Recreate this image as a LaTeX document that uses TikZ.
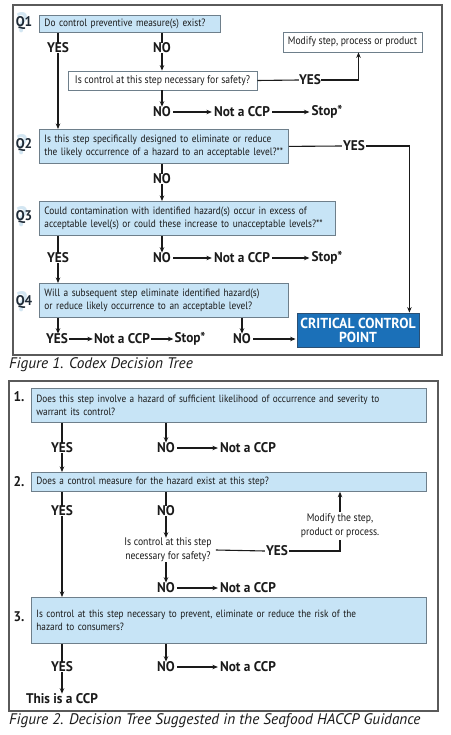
\documentclass[tikz,border=0pt]{standalone}
\usepackage{fontspec}
\setmainfont{PT Sans}[FakeStretch=0.88]
\newfontfamily\capfont{PT Sans}
\newfontfamily\lblfont{PT Sans}[FakeStretch=0.95]
\usetikzlibrary{arrows.meta,calc}
\definecolor{boxfill}{HTML}{C7E4F6}
\definecolor{boxline}{HTML}{6E7F8B}
\definecolor{ccpblue}{HTML}{1B70B8}
\definecolor{ccpdark}{HTML}{2A4F73}
\definecolor{ink}{HTML}{1A1A1A}
\definecolor{framec}{HTML}{5A5A5A}
\definecolor{qmark}{HTML}{D3E6F2}
\definecolor{qlabc}{HTML}{1E2A36}
\begin{document}
\begin{tikzpicture}[x=1pt,y=-1pt,
  every node/.style={text=ink, inner sep=0pt},
  qbox/.style={draw=boxline, fill=boxfill, line width=0.8pt, anchor=north west, align=left, inner xsep=5pt, inner ysep=0pt, font=\fontsize{10.6}{13}\selectfont},
  qboxb/.style={qbox, font=\fontsize{10.5}{13}\selectfont},
  wbox/.style={draw=boxline, fill=white, line width=0.8pt, font=\fontsize{11}{13}\selectfont},
  lbl/.style={font=\lblfont\fontsize{14}{16}\selectfont\bfseries},
  txt/.style={font=\fontsize{11}{14}\selectfont, align=center},
  qlab/.style={font=\lblfont\fontsize{14}{16}\selectfont\bfseries, text=qlabc},
  qm/.style={font=\fontsize{28}{28}\selectfont\bfseries, text=qmark},
  conn/.style={draw=ink, line width=1.1pt},
  arr/.style={conn, -{Stealth[length=5.5pt,width=4.5pt]}},
  figframe/.style={draw=framec, line width=1.3pt},
  capt/.style={font=\capfont\itshape\fontsize{15.3}{17}\selectfont, anchor=west, text=ink}
]
\useasboundingbox[fill=white] (0,0) rectangle (450,735);
% ---------------- Figure 1 ----------------
\draw[figframe] (13,5) rectangle (442,355);
\node[qm] (qm1) at (22,23) {?};
\node[qm] (qm2) at (22,145) {?};
\node[qm] (qm3) at (22,217) {?};
\node[qm] (qm4) at (22,302) {?};
\node[qlab] (ql1) at (24,23) {Q1};
\node[qlab] (ql2) at (24,145) {Q2};
\node[qlab] (ql3) at (24,217) {Q3};
\node[qlab] (ql4) at (24,302) {Q4};

\node[qbox, text width=171, minimum height=17] (q1) at (39,15) {\mbox{Do control preventive measure(s) exist?}};
\node[lbl] (y1) at (58,48) {YES};
\node[lbl] (n1) at (162,48) {NO};
\node[wbox, minimum width=189, minimum height=19] (s1) at (162.5,80.5) {Is control at this step necessary for safety?};
\node[wbox, minimum width=139, minimum height=20] (m1) at (352.5,42) {Modify step, process or product};
\node[lbl] (y1b) at (310,80) {YES};
\node[lbl] (n1b) at (162,112) {NO};
\node[lbl] (nc1) at (242,112) {Not a CCP};
\node[lbl] (st1) at (327,112) {Stop*};

\node[qbox, text width=239, minimum height=34] (q2) at (39,129) {\mbox{Is this step specifically designed to eliminate or reduce}\\\mbox{the likely occurrence of a hazard to an acceptable level?**}};
\node[lbl] (y2) at (354,146) {YES};
\node[lbl] (n2) at (162,179) {NO};

\node[qbox, text width=286, minimum height=34] (q3) at (39,201) {\mbox{Could contamination with identified hazard(s) occur in excess of}\\\mbox{acceptable level(s) or could these increase to unacceptable levels?**}};
\node[lbl] (y3) at (58,258) {YES};
\node[lbl] (n3) at (162,258) {NO};
\node[lbl] (nc3) at (242,258) {Not a CCP};
\node[lbl] (st3) at (327,258) {Stop*};

\node[qbox, text width=239, minimum height=34] (q4) at (39,283) {\mbox{Will a subsequent step eliminate identified hazard(s)}\\\mbox{or reduce likely occurrence to an acceptable level?}};
\node[lbl] (y4) at (57,339) {YES};
\node[lbl] (nc4) at (122,339) {Not a CCP};
\node[lbl] (st4) at (190,339) {Stop*};
\node[lbl] (n4) at (242,339) {NO};
\node[draw=ccpdark, fill=ccpblue, line width=0.8pt, minimum width=122, minimum height=34, text=white, align=center, font=\lblfont\fontsize{14.5}{14}\selectfont\bfseries] (ccp) at (358,330) {CRITICAL CONTROL\\POINT};
\coordinate (ccpin) at ($(ccp.north east)+(-10,0)$);
\coordinate (m1in) at ($(m1.south)+(6,0)$);

\draw[conn] (q1.south -| y1) -- (y1.north);
\draw[arr] (y1.south) -- (q2.north -| y1);
\draw[conn] (q1.south -| n1) -- (n1.north);
\draw[arr] (n1.south) -- (s1.north -| n1);
\draw[conn] (s1.east) -- (y1b.west);
\draw[arr] (y1b.east) -| (m1in);
\draw[arr] (s1.south -| n1b) -- (n1b.north);
\draw[arr] (n1b.east) ++(2,0) -- ([xshift=-2pt]nc1.west);
\draw[arr] (nc1.east) ++(2,0) -- ([xshift=-2pt]st1.west);
\draw[conn] (q2.east) -- ([xshift=-1pt]y2.west);
\draw[arr] ([xshift=1pt]y2.east) -| (ccpin);
\draw[conn] (q2.south -| n2) -- (n2.north);
\draw[arr] (n2.south) -- (q3.north -| n2);
\draw[conn] (q3.south -| y3) -- (y3.north);
\draw[arr] (y3.south) -- (q4.north -| y3);
\draw[arr] (q3.south -| n3) -- (n3.north);
\draw[arr] (n3.east) ++(2,0) -- ([xshift=-2pt]nc3.west);
\draw[arr] (nc3.east) ++(2,0) -- ([xshift=-2pt]st3.west);
\draw[arr] (q4.south -| y3) -- (y4.north -| y3);
\draw[arr] (y4.east) ++(1,0) -- ([xshift=-1pt]nc4.west);
\draw[arr] (nc4.east) ++(1,0) -- ([xshift=-1pt]st4.west);
\draw[arr] (q4.south -| n4) -- (n4.north);
\draw[arr] ([xshift=2pt]n4.east) -- ([xshift=-1pt]n4.east -| ccp.west);
\node[capt] (cap1) at (9,365) {Figure 1. Codex Decision Tree};

% ---------------- Figure 2 ----------------
\draw[figframe] (9,381) rectangle (438,711);
\node[lbl] (l1) at (19,397) {1.};
\node[lbl] (l2) at (19,482) {2.};
\node[lbl] (l3) at (19,617) {3.};
\node[qboxb, text width=385, minimum height=34] (b1) at (31,388) {Does this step involve a hazard of sufficient likelihood of occurrence and severity to\\warrant its control?};
\node[lbl] (fy1) at (62,448) {YES};
\node[lbl] (fn1) at (166,448) {NO};
\node[lbl] (fc1) at (248,448) {Not a CCP};
\node[qboxb, text width=385, minimum height=19] (b2) at (31,472) {Does a control measure for the hazard exist at this step?};
\node[lbl] (fy2) at (62,511) {YES};
\node[lbl] (fn2) at (166,511) {NO};
\node[txt] (fs2) at (168,550) {Is control at this step\\necessary for safety?};
\node[lbl] (fy2b) at (277,551) {YES};
\node[txt] (fm2) at (340,526) {Modify the step,\\product or process.};
\node[lbl] (fn2b) at (166,588) {NO};
\node[lbl] (fc2b) at (248,588) {Not a CCP};
\node[qboxb, text width=385, minimum height=46] (b3) at (31,597) {Is control at this step necessary to prevent, eliminate or reduce the risk of the\\hazard to consumers?\\[-5pt]};
\node[lbl] (fy3) at (62,667) {YES};
\node[lbl] (fn3) at (166,667) {NO};
\node[lbl] (fc3) at (248,667) {Not a CCP};
\node[lbl] (fccp) at (62,699) {This is a CCP};

\draw[conn] (b1.south -| fy1) -- (fy1.north);
\draw[arr] (fy1.south) -- (b2.north -| fy1);
\draw[arr] (b1.south -| fn1) -- (fn1.north);
\draw[arr] (fn1.east) ++(2,0) -- ([xshift=-2pt]fc1.west);
\draw[conn] (b2.south -| fy2) -- (fy2.north);
\draw[arr] (fy2.south) -- (b3.north -| fy2);
\draw[conn] (b2.south -| fn2) -- (fn2.north);
\draw[arr] (fn2.south) -- (fs2.north -| fn2);
\draw[conn] ([xshift=4pt]fs2.east) -- ([xshift=-1pt]fy2b.west);
\draw[conn] ([xshift=1pt]fy2b.east) -| ([yshift=-2pt]fm2.south);
\draw[arr] ([yshift=2pt]fm2.north) -- (b2.south -| fm2);
\draw[arr] (fs2.south -| fn2b) -- (fn2b.north);
\draw[arr] (fn2b.east) ++(2,0) -- ([xshift=-2pt]fc2b.west);
\draw[conn] (b3.south -| fy3) -- (fy3.north);
\draw[arr] (fy3.south) -- (fccp.north -| fy3);
\draw[arr] (b3.south -| fn3) -- (fn3.north);
\draw[arr] (fn3.east) ++(2,0) -- ([xshift=-2pt]fc3.west);
\node[capt] (cap2) at (9,721) {Figure 2. Decision Tree Suggested in the Seafood HACCP Guidance};
\end{tikzpicture}
\end{document}
